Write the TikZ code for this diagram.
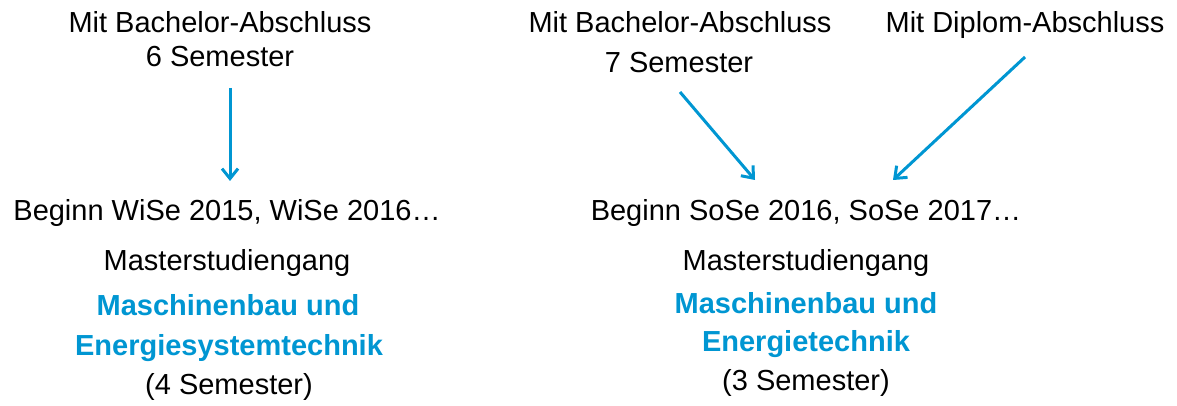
\documentclass[tikz,border=0pt]{standalone}
\usepackage{fontspec}
\setmainfont{Liberation Sans}
\usetikzlibrary{arrows.meta}
\definecolor{hsblue}{RGB}{0,150,210}
\tikzset{
  txt/.style={inner sep=0pt, anchor=base, font=\fontsize{29}{34}\selectfont},
  title/.style={txt, text=hsblue, font=\fontsize{29}{34}\selectfont\bfseries},
  flow/.style={draw=hsblue, line width=3pt, -{Straight Barb[length=10pt,width=16pt,line width=3pt]}}
}
\begin{document}
\begin{tikzpicture}[x=1pt,y=-1pt]
  \useasboundingbox (0,0) rectangle (1177,406);

  % left column: six-semester bachelor
  \node[txt] (lb1) at (220,33) {Mit Bachelor-Abschluss};
  \node[txt] (lb2) at (220,67) {6 Semester};
  \node[txt] (lbeg) at (227,220) {Beginn WiSe 2015, WiSe 2016…};
  \node[txt] (lms) at (227,270) {Masterstudiengang};
  \node[title] (lt1) at (228,315) {Maschinenbau und};
  \node[title] (lt2) at (229,355) {Energiesystemtechnik};
  \node[txt] (lsem) at (229,394) {(4 Semester)};

  % right column: seven-semester bachelor or diploma
  \node[txt] (rb1) at (680,33) {Mit Bachelor-Abschluss};
  \node[txt] (rb2) at (679,73) {7 Semester};
  \node[txt] (rd) at (1025,33) {Mit Diplom-Abschluss};
  \node[txt] (rbeg) at (806,220) {Beginn SoSe 2016, SoSe 2017…};
  \node[txt] (rms) at (806,270) {Masterstudiengang};
  \node[title] (rt1) at (806,313) {Maschinenbau und};
  \node[title] (rt2) at (806,351) {Energietechnik};
  \node[txt] (rsem) at (806,390) {(3 Semester)};

  % arrow end points
  \coordinate (la) at (230,88);
  \coordinate (lz) at (230,181);
  \coordinate (ra) at (680,92);
  \coordinate (rz) at (755,180);
  \coordinate (da) at (1025,57);
  \coordinate (dz) at (893,180);

  \draw[flow] (la) -- (lz);
  \draw[flow] (ra) -- (rz);
  \draw[flow] (da) -- (dz);
\end{tikzpicture}
\end{document}
